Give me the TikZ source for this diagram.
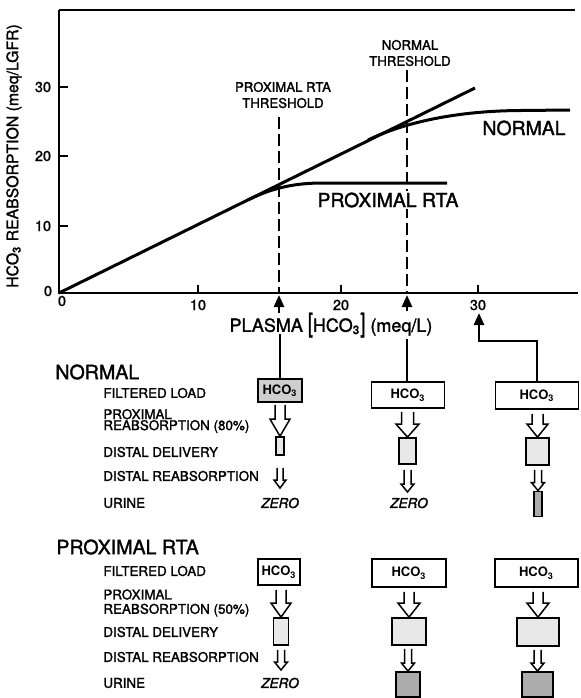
\documentclass[tikz,border=0pt]{standalone}
\usepackage{fontspec}
\setmainfont{TeX Gyre Heros}
\newfontfamily\medfont{TeX Gyre Heros}[FakeBold=1.6]
\usetikzlibrary{arrows.meta,calc}
\newcommand\fsz[2]{\fontsize{#1}{#2}\selectfont}
\newcommand\harrow[5]{%
  \draw[arrline] let \p1=(#1), \p2=(#2) in
    (\x2-#3*0.5pt,\y1) -- (\x2-#3*0.5pt,\y2+#5*0.5pt) -- (\x2-#4*0.5pt,\y2+#5*0.5pt)
    -- (\x2,\y2) -- (\x2+#4*0.5pt,\y2+#5*0.5pt) -- (\x2+#3*0.5pt,\y2+#5*0.5pt) -- (\x2+#3*0.5pt,\y1);}
\tikzset{
  ax/.style={line width=1pt},
  curve/.style={line width=1.5pt},
  thr/.style={line width=0.7pt, dash pattern=on 6pt off 2.5pt},
  conn/.style={line width=1.3pt},
  upar/.style={conn, -{Triangle[length=6pt,width=5pt]}},
  arrline/.style={line width=0.75pt},
  num/.style={font=\medfont\fsz{7.2}{8}, inner sep=0pt},
  lab/.style={font=\medfont\fsz{6.7}{5.5}, inner sep=0pt, anchor=west, align=left},
  lab2/.style={font=\medfont\fsz{6.7}{7.2}, inner sep=0pt, anchor=west, align=left},
  head/.style={font=\medfont\fsz{9.8}{11}, inner sep=0pt, anchor=west},
  thrlab/.style={font=\medfont\fsz{6.6}{8}, inner sep=0pt, align=center},
  curvelab/.style={font=\medfont\fsz{9.7}{11}, inner sep=1pt, fill=white},
  zero/.style={font=\medfont\itshape\fsz{6.8}{8}, inner sep=0pt},
  box/.style={draw, line width=0.9pt, inner sep=0pt, font=\bfseries\fsz{6.5}{7}},
  bx/.style n args={2}{minimum width=#1*0.5pt, minimum height=#2*0.5pt},
  stip/.style={fill=gray!18},
  stipd/.style={fill=gray!38},
  dark/.style={fill=gray!65}
}
\begin{document}
\begin{tikzpicture}[x=0.5pt,y=-0.5pt]
\useasboundingbox (0,0) rectangle (580,698);
% ---------- plot frame
\coordinate (o) at (59,293);
\draw[ax] (59,10) -- (o) -- (578,293);
\draw[ax] (59,10) -- (575,10);
\foreach \y/\l in {226/10,156/20,87/30}{
  \draw[ax] (59,\y) -- (68,\y);
  \node[num] (yl\l) at (43,\y) {\l};}
\node[num] (yl0) at (48,291) {0};
\foreach \x/\l in {198/10,341/20,478/30}{
  \draw[ax] (\x,293) -- (\x,285);
  \node[num] (xl\l) at (\x,305) {\l};}
\node[num] (xl0) at (62,301) {0};
\node[rotate=90, font=\medfont\fsz{7.9}{9}, inner sep=0pt] (ylab) at (14,156)
  {HCO\textsubscript{3} REABSORPTION (meq/LGFR)};
% ---------- thresholds
\coordinate (a1) at (279,295);
\coordinate (a2) at (407,295);
\coordinate (a3) at (479,313);
\draw[thr] (279,117) -- (279,293);
\draw[thr] (407,70) -- (407,293);
\node[thrlab] (pt) at (283,95) {PROXIMAL RTA\\THRESHOLD};
\node[thrlab] (nt) at (410,53) {NORMAL\\THRESHOLD};
% ---------- curves
\draw[curve] (o) -- (475,88);
\draw[curve] (248,200) .. controls (268,190) and (290,183) .. (322,183) -- (447,183);
\draw[curve] (368,140) .. controls (400,124.5) and (450,111) .. (520,110.5) -- (570,110);
\node[curvelab] (nlab) at (524,128) {NORMAL};
\node[curvelab] (plab) at (388,200) {PROXIMAL RTA};
% ---------- x axis title
\node[font=\medfont\fsz{9}{10}, inner sep=0pt] (plasma) at (331,325)
  {PLASMA \scalebox{1}[1.45]{[}HCO\textsubscript{3}\scalebox{1}[1.45]{]} (meq/L)};
\draw[upar] ($(a1)+(0,18)$) -- (a1);
\draw[upar] ($(a2)+(0,16)$) -- (a2);
% ---------- NORMAL section
\node[head] (hn) at (55,372) {NORMAL};
\node[lab] (n1) at (103,393) {FILTERED LOAD};
\node[lab] (n2) at (103,421) {PROXIMAL\\REABSORPTION (80\%)};
\node[lab] (n3) at (103,452) {DISTAL DELIVERY};
\node[lab] (n4) at (103,476) {DISTAL REABSORPTION};
\node[lab] (n5) at (103,503) {URINE};
\node[box, stipd, bx={44}{23}] (f1) at (280,390.5) {HCO\textsubscript{3}};
\node[box, fill=white, bx={73}{26}] (f2) at (408,395) {HCO\textsubscript{3}};
\node[box, fill=white, bx={83}{27}] (f3) at (537,395.5) {HCO\textsubscript{3}};
\node[box, stip, bx={8}{18}] (d1) at (280,446) {};
\node[box, stip, bx={17}{26}] (d2) at (407.5,451) {};
\node[box, stip, bx={23}{27}] (d3) at (537.5,451.5) {};
\node[box, dark, bx={8}{25}] (u3) at (538,504) {};
\node[zero] (z1) at (280,503) {ZERO};
\node[zero] (z2) at (409,503) {ZERO};
\coordinate (t1) at (280,488);
\coordinate (t2) at (407.5,492);
\draw[conn] (f1.north) -- ++(0,-44);
\draw[conn] (f2.north -| a2) -- ++(0,-42);
\draw[upar] (f3.north) -- ++(0,-40) -| (a3);
\harrow{$(f1.south)+(0,2)$}{d1.north}{5}{10}{17}
\harrow{$(f2.south)+(0,3)$}{d2.north}{6}{11.5}{13}
\harrow{$(f3.south)+(0,4)$}{d3.north}{5.5}{10.5}{13}
\harrow{$(d1.south)+(0,12)$}{t1}{3}{6}{8}
\harrow{$(d2.south)+(0,5)$}{t2}{3.5}{6.5}{8}
\harrow{$(d3.south)+(0,4)$}{u3.north}{3.5}{6.5}{8}
% ---------- PROXIMAL RTA section
\node[head] (hp) at (56,547) {PROXIMAL RTA};
\node[lab] (p1) at (103,571) {FILTERED LOAD};
\node[lab2] (p2) at (103,603) {PROXIMAL\\REABSORPTION (50\%)};
\node[lab] (p3) at (103,632) {DISTAL DELIVERY};
\node[lab] (p4) at (103,657) {DISTAL REABSORPTION};
\node[lab] (p5) at (103,683) {URINE};
\node[box, fill=white, bx={42}{26}] (g1) at (279,572) {HCO\textsubscript{3}};
\node[box, fill=white, bx={74}{28}] (g2) at (409,573) {HCO\textsubscript{3}};
\node[box, fill=white, bx={83}{28}] (g3) at (536.5,573) {HCO\textsubscript{3}};
\node[box, stip, bx={15}{27}] (e1) at (281,631.5) {};
\node[box, stip, bx={34}{27}] (e2) at (409,631.5) {};
\node[box, stip, bx={42}{28}] (e3) at (538,632) {};
\node[box, dark, bx={24}{25}] (v2) at (408,684.5) {};
\node[box, dark, bx={31}{25}] (v3) at (537.5,684.5) {};
\node[zero] (z3) at (280,683) {ZERO};
\coordinate (t3) at (281,670);
\harrow{$(g1.south)+(0,4)$}{e1.north}{5}{10}{14}
\harrow{$(g2.south)+(0,4)$}{e2.north}{5}{11}{14}
\harrow{$(g3.south)+(0,4)$}{e3.north}{5}{11}{14}
\harrow{$(e1.south)+(0,4)$}{t3}{3.5}{6.5}{8}
\harrow{$(e2.south)+(0,3)$}{v2.north}{3.5}{6.5}{8}
\harrow{$(e3.south)+(0,3)$}{v3.north}{3.5}{6.5}{8}
\end{tikzpicture}
\end{document}
